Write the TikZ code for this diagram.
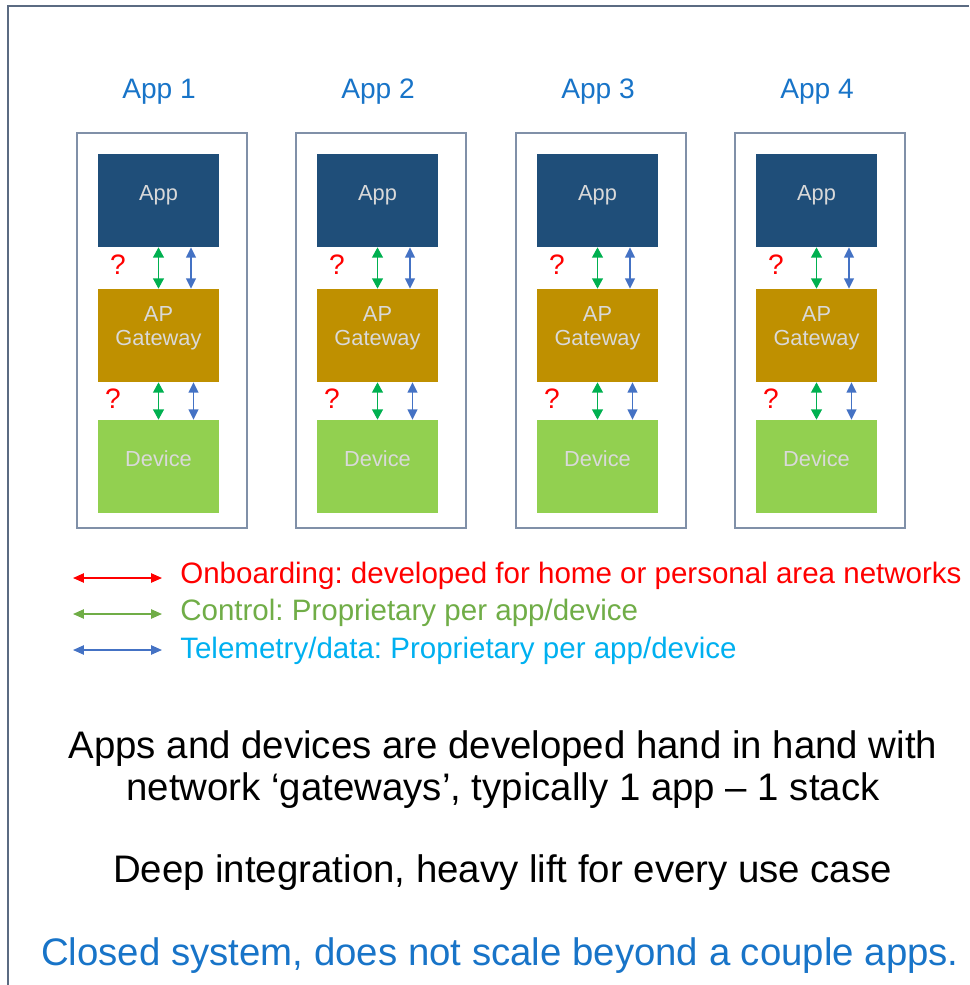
\documentclass[tikz,border=0pt]{standalone}
\usepackage{fontspec}
\setmainfont{Liberation Sans}
\usetikzlibrary{arrows.meta,positioning}
\frenchspacing

\definecolor{appblue}{HTML}{1F4E79}
\definecolor{gwgold}{HTML}{BF9000}
\definecolor{devgreen}{HTML}{92D050}
\definecolor{boxgray}{HTML}{D9D9D9}
\definecolor{ctrlgreen}{HTML}{00B050}
\definecolor{teleblue}{HTML}{4472C4}
\definecolor{leggreen}{HTML}{70AD47}
\definecolor{telecyan}{HTML}{00B0F0}
\definecolor{titleblue}{HTML}{1874C8}
\definecolor{framegray}{HTML}{5B6B82}
\definecolor{colgray}{HTML}{8090A8}

\tikzset{
  colbox/.style={rectangle, draw=colgray, line width=0.9pt, minimum width=4.25cm, minimum height=9.875cm},
  stackbox/.style={rectangle, minimum width=3.025cm, minimum height=2.325cm, text=boxgray, font=\fontsize{15.5}{17.1}\selectfont},
  appbox/.style={stackbox, fill=appblue, text height=12.4pt, text depth=12.4pt},
  gwbox/.style={stackbox, fill=gwgold, align=center},
  devbox/.style={stackbox, fill=devgreen, text height=12.4pt, text depth=12.4pt},
  apptitle/.style={text=titleblue, font=\fontsize{20}{24}\selectfont},
  qmark/.style={text=red, font=\fontsize{20}{24}\selectfont},
  ctrl/.style={<->, >={Triangle[length=2.6mm,width=2.7mm]}, draw=ctrlgreen, line width=1.3pt},
  tele/.style={<->, >={Triangle[length=2.6mm,width=2.5mm]}, draw=teleblue, line width=1pt},
  legarrow/.style={<->, >={Triangle[length=2.7mm,width=2.3mm]}, line width=1pt},
  legtext/.style={anchor=base west, font=\fontsize{21}{25}\selectfont},
  bigtext/.style={font=\fontsize{27.3}{29.9}\selectfont, align=center}
}

\begin{document}
\begin{tikzpicture}[x=0.025cm, y=-0.025cm, inner sep=0pt]
  \useasboundingbox (0,0) rectangle (969,985);
  \draw[framegray, line width=1.4pt] (8,985) -- (8,6) -- (969,6);

  \foreach \i/\x in {1/158.5, 2/377.5, 3/597.5, 4/816.5} {
    \node[colbox] (col\i) at (\x+3.5, 330.5) {};
    \node[apptitle, anchor=base] (title\i) at (\x+0.5, 99) {App \i};
    \node[appbox] (app\i) at (\x, 200.5) {App};
    \node[gwbox] (gw\i) at (\x, 335.5) {AP\\Gateway\rule[-13.3pt]{0pt}{13.3pt}};
    \node[devbox] (dev\i) at (\x, 466.5) {Device};
    \draw[ctrl] (app\i.south) -- (gw\i.north);
    \draw[tele] ([xshift=0.8125cm]app\i.south) -- ([xshift=0.8125cm]gw\i.north);
    \draw[ctrl] (gw\i.south) -- (dev\i.north);
    \draw[tele] ([xshift=0.875cm]gw\i.south) -- ([xshift=0.875cm]dev\i.north);
    \node[qmark, anchor=base] (qa\i) at (\x-40.5, 274) {?};
    \node[qmark, anchor=base] (qb\i) at (\x-45.5, 408) {?};
  }

  \coordinate (onbL) at (73,578);
  \coordinate (onbR) at (162,578);
  \coordinate (ctlL) at (73,614);
  \coordinate (ctlR) at (162,614);
  \coordinate (telL) at (73,650);
  \coordinate (telR) at (162,650);
  \draw[legarrow, red] (onbL) -- (onbR);
  \draw[legarrow, leggreen] (ctlL) -- (ctlR);
  \draw[legarrow, teleblue] (telL) -- (telR);
  \node[legtext, text=red] (onbtext) at (180,583) {Onboarding: developed for home or personal area networks};
  \node[legtext, text=leggreen] (ctltext) at (180,620) {Control: Proprietary per app/device};
  \node[legtext, text=telecyan] (teltext) at (180,658) {Telemetry/data: Proprietary per app/device};

  \node[bigtext, anchor=north] (stack) at (503,730) {Apps and devices are developed hand in hand with\\network ‘gateways’, typically 1 app – 1 stack};
  \node[bigtext, anchor=base] (deep) at (502.5,882) {Deep integration, heavy lift for every use case};
  \node[bigtext, anchor=base, text=titleblue] (closed) at (500,965) {Closed system, does not scale beyond a couple apps.};
\end{tikzpicture}
\end{document}
